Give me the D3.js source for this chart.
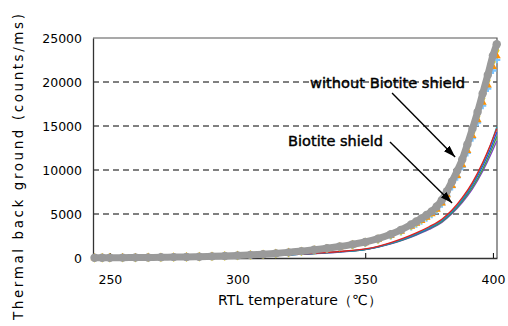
<!DOCTYPE html>
<html>
<head>
<meta charset="utf-8">
<script src="https://cdn.jsdelivr.net/npm/d3@7"></script>
<style>
  body { margin: 0; background: #fff; }
  svg { display: block; }
  text { font-family: "DejaVu Sans", sans-serif; fill: #000; }
</style>
</head>
<body>
<figure id="chart" style="margin:0"></figure>
<script>
// temperature steps (degC) for the runs without shield
const tempsOpen = [244, 247, 250, 255, 260, 265, 270, 275, 280, 285, 290, 295, 300, 305, 310, 315, 320, 325, 330, 335, 340, 345, 350, 355, 360, 364, 368, 370, 372, 374, 376, 378, 380, 382, 384, 386, 388, 390, 392, 394, 396, 398, 400, 401.5];

// without Biotite shield (grey run)
const openGrey = [20, 25, 30, 40, 50, 65, 80, 100, 120, 150, 190, 235, 290, 355, 430, 530, 640, 780, 930, 1100, 1300, 1550, 1820, 2200, 2700, 3200, 3800, 4150, 4500, 4880, 5300, 5850, 6600, 7600, 8700, 9900, 11200, 12900, 14700, 16600, 18700, 20800, 23000, 24300];
// other runs without shield (small markers)
const openOrange = [18, 23, 28, 37, 47, 61, 75, 94, 113, 140, 178, 222, 274, 335, 405, 500, 605, 735, 880, 1040, 1230, 1465, 1720, 2080, 2550, 3020, 3590, 3920, 4250, 4610, 5010, 5530, 6240, 7180, 8220, 9360, 10580, 12190, 13890, 15690, 17670, 19650, 21740, 22960];
const openLightBlue = [17, 22, 27, 36, 46, 59, 73, 92, 110, 138, 175, 218, 268, 328, 398, 490, 592, 722, 862, 1018, 1205, 1435, 1690, 2040, 2500, 2960, 3520, 3840, 4170, 4520, 4910, 5420, 6110, 7040, 8060, 9170, 10370, 11950, 13620, 15380, 17320, 19260, 21310, 22520];
const openYellow = [19, 24, 29, 39, 48, 63, 78, 97, 116, 145, 184, 228, 281, 344, 417, 514, 621, 757, 902, 1067, 1261, 1504, 1770, 2130, 2620, 3100, 3690, 4030, 4370, 4740, 5150, 5680, 6400, 7370, 8440, 9600, 10860, 12510, 14260, 16100, 18140, 20180, 22310, 23570];

// temperature steps for the runs with Biotite shield
const tempsShield = [244, 250, 260, 270, 280, 290, 300, 310, 320, 330, 340, 350, 355, 360, 365, 370, 375, 380, 384, 388, 392, 396, 399, 401.5];
const shieldRed = [10, 16, 30, 52, 82, 124, 185, 268, 380, 535, 740, 1030, 1330, 1750, 2250, 2850, 3550, 4400, 5450, 6850, 8600, 10850, 12850, 14700];
const shieldBlue = [9, 15, 29, 49, 78, 118, 176, 255, 362, 510, 705, 980, 1270, 1660, 2140, 2720, 3400, 4230, 5250, 6600, 8300, 10450, 12400, 14300];
const shieldTeal = [10, 15, 30, 50, 80, 120, 180, 260, 370, 520, 720, 995, 1290, 1690, 2180, 2760, 3450, 4290, 5300, 6700, 8450, 10700, 12800, 14900];
const shieldGreen = [9, 14, 28, 48, 76, 115, 172, 250, 355, 500, 690, 960, 1245, 1630, 2100, 2660, 3320, 4130, 5150, 6450, 8050, 10100, 12000, 13800];
const shieldPurple = [9, 14, 27, 47, 75, 113, 170, 246, 350, 492, 680, 945, 1225, 1600, 2060, 2610, 3250, 4050, 5050, 6300, 7850, 9850, 11650, 13300];

const xTicks = [250, 300, 350, 400];
const yTicks = [0, 5000, 10000, 15000, 20000, 25000];

// annotation text + arrows, in data units
const notes = [
  { label: "without Biotite shield", tx: 328.4, ty: 19320, fromX: 360.5, fromY: 18750, toX: 385.2, toY: 11480, len: 155 },
  { label: "Biotite shield", tx: 319.8, ty: 12730, fromX: 359.7, fromY: 13180, toX: 384.0, toY: 6250, len: 95 }
];

const W = 508, H = 326;
const plotL = 93, plotR = 497, plotT = 38, plotB = 258;

const svg = d3.select("#chart").append("svg")
  .attr("width", W)
  .attr("height", H);

const x = d3.scaleLinear().domain([243.4, 401.6]).range([plotL, plotR]);
const y = d3.scaleLinear().domain([0, 25000]).range([plotB, plotT]);

// dashed grid
svg.append("g")
  .selectAll("line")
  .data(yTicks.filter(d => d > 0 && d < 25000))
  .enter()
  .append("line")
  .attr("x1", plotL)
  .attr("x2", plotR)
  .attr("y1", d => y(d))
  .attr("y2", d => y(d))
  .attr("stroke", "#000")
  .attr("stroke-width", 1)
  .attr("stroke-dasharray", "6,4");

// frame top/right
svg.append("path")
  .attr("d", `M${plotL},${plotT}H${plotR}V${plotB}`)
  .attr("fill", "none")
  .attr("stroke", "#555")
  .attr("stroke-width", 1.2);

// y axis
const yAxis = svg.append("g")
  .attr("transform", `translate(${plotL},0)`)
  .call(d3.axisLeft(y).tickValues(yTicks).tickSize(0).tickPadding(11).tickFormat(d3.format("d")));
yAxis.select(".domain").attr("stroke", "#333").attr("stroke-width", 1.3);
yAxis.selectAll("text").style("font-size", "12.5px").attr("fill", "#000");

// x axis
const xAxis = svg.append("g")
  .attr("transform", `translate(0,${plotB})`)
  .call(d3.axisBottom(x).tickValues(xTicks).tickSizeInner(-5).tickSizeOuter(0).tickPadding(17));
xAxis.select(".domain").attr("stroke", "#333").attr("stroke-width", 1.3);
xAxis.selectAll(".tick line").attr("stroke", "#000");
xAxis.selectAll("text").style("font-size", "12.5px").attr("fill", "#000");

// shield runs: thin lines
const shieldRuns = [
  { vals: shieldPurple, color: "#8040c0" },
  { vals: shieldGreen, color: "#40a040" },
  { vals: shieldBlue, color: "#2050e0" },
  { vals: shieldTeal, color: "#20a0b0" },
  { vals: shieldRed, color: "#e02020" }
];
const lineS = d3.line()
  .x(d => x(d[0]))
  .y(d => y(d[1]))
  .curve(d3.curveMonotoneX);
svg.append("g")
  .selectAll("path")
  .data(shieldRuns)
  .enter()
  .append("path")
  .attr("d", r => lineS(tempsShield.map((t, i) => [t, r.vals[i]])))
  .attr("fill", "none")
  .attr("stroke", r => r.color)
  .attr("stroke-width", 1.3);

// other open runs: small markers
const openRuns = [
  { vals: openLightBlue, color: "#7cc4ff", shape: d3.symbolCross },
  { vals: openYellow, color: "#f2d800", shape: d3.symbolDiamond },
  { vals: openOrange, color: "#ff9000", shape: d3.symbolTriangle }
];
openRuns.forEach(r => {
  svg.append("g")
    .selectAll("path")
    .data(tempsOpen.map((t, i) => [t, r.vals[i]]))
    .enter()
    .append("path")
    .attr("transform", d => `translate(${x(d[0])},${y(d[1])})`)
    .attr("d", d3.symbol().type(r.shape).size(28))
    .attr("fill", r.color);
});

// grey run: thick band of dots
const greyPts = tempsOpen.map((t, i) => [t, openGrey[i]]);
svg.append("path")
  .attr("d", d3.line().x(d => x(d[0])).y(d => y(d[1])).curve(d3.curveMonotoneX)(greyPts))
  .attr("fill", "none")
  .attr("stroke", "#9a9a9a")
  .attr("stroke-width", 7)
  .attr("stroke-linecap", "round");
svg.append("g")
  .selectAll("circle")
  .data(greyPts)
  .enter()
  .append("circle")
  .attr("cx", d => x(d[0]))
  .attr("cy", d => y(d[1]))
  .attr("r", 4.2)
  .attr("fill", "#9a9a9a");

// arrows
svg.append("defs").append("marker")
  .attr("id", "head")
  .attr("viewBox", "0 0 12 8")
  .attr("refX", 12)
  .attr("refY", 4)
  .attr("markerWidth", 12)
  .attr("markerHeight", 8)
  .attr("markerUnits", "userSpaceOnUse")
  .attr("orient", "auto")
  .append("path")
  .attr("d", "M0,0L12,4L0,8Z")
  .attr("fill", "#000");

svg.append("g")
  .selectAll("line")
  .data(notes)
  .enter()
  .append("line")
  .attr("x1", d => x(d.fromX))
  .attr("y1", d => y(d.fromY))
  .attr("x2", d => x(d.toX))
  .attr("y2", d => y(d.toY))
  .attr("stroke", "#000")
  .attr("stroke-width", 1.4)
  .attr("marker-end", "url(#head)");

svg.append("g")
  .selectAll("text")
  .data(notes)
  .enter()
  .append("text")
  .attr("x", d => x(d.tx))
  .attr("y", d => y(d.ty))
  .attr("textLength", d => d.len)
  .attr("lengthAdjust", "spacingAndGlyphs")
  .attr("stroke", "#000")
  .attr("stroke-width", 0.4)
  .style("font-size", "13.5px")
  .text(d => d.label);

// axis titles
svg.append("text")
  .attr("x", 300)
  .attr("y", 305)
  .attr("text-anchor", "middle")
  .attr("textLength", 164)
  .style("font-size", "14px")
  .text("RTL temperature（℃）");

svg.append("text")
  .attr("transform", "translate(23,167) rotate(-90)")
  .attr("text-anchor", "middle")
  .attr("textLength", 306)
  .attr("lengthAdjust", "spacing")
  .style("font-size", "13.5px")
  .text("Thermal back ground (counts/ms)");
</script>
</body>
</html>
